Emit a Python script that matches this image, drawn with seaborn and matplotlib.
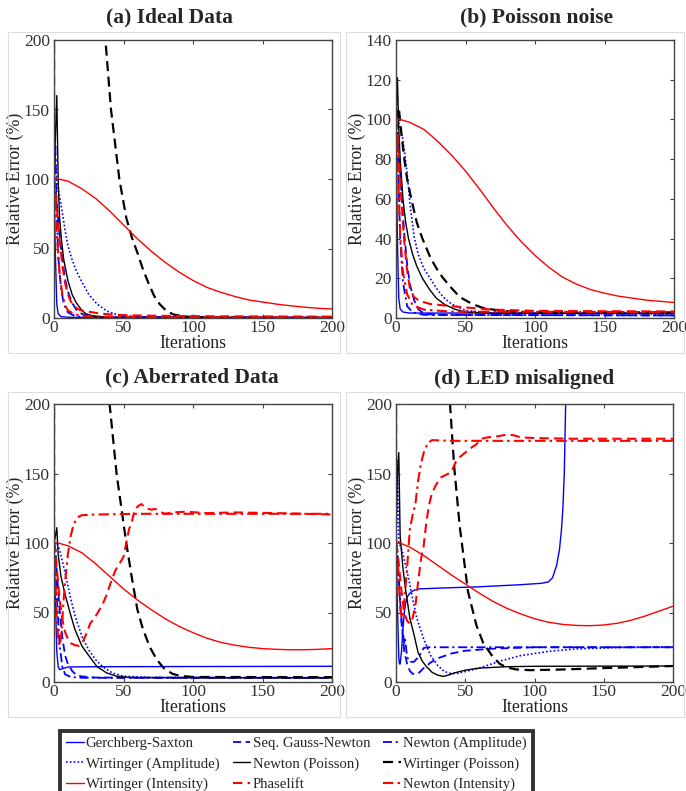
import pandas as pd
import matplotlib.pyplot as plt
import seaborn as sns
from matplotlib.patches import Rectangle

# (iteration, relative error %) pairs
# (a) ideal data
a_gs = [(0, 100), (1, 45), (2, 10), (3, 3), (5, 1), (10, 0.5), (200, 0.3)]
a_sgn = [(0, 100), (1, 95), (2, 82), (4, 60), (6, 42), (8, 28), (10, 19), (13, 11), (16, 6), (20, 3), (25, 1.5), (40, 0.6), (200, 0.3)]
a_na = [(0, 100), (1, 125), (2, 75), (3, 45), (5, 22), (7, 10), (10, 4), (15, 1.5), (20, 0.6), (200, 0.3)]
a_wa = [(0, 100), (1, 115), (2, 98), (5, 82), (8, 63), (10, 52), (13, 42), (16, 34), (20, 26), (25, 17), (31, 10), (38, 5), (45, 2.5), (60, 1), (80, 0.5), (200, 0.3)]
a_np = [(0, 100), (1, 130), (2, 160), (3, 100), (4, 72), (5.5, 55), (7, 42), (10, 27), (13, 17), (16, 11), (20, 5.5), (23, 3), (30, 1), (40, 0.4), (200, 0.2)]
a_wp = [(0, 100), (1, 6000), (10, 2000), (20, 900), (30, 380), (37, 200), (41, 150), (47, 100), (52, 72), (56, 58), (60, 47), (64, 35), (68, 25), (72, 16), (76, 10), (81, 5), (86, 2.5), (95, 1), (110, 0.4), (200, 0.2)]
a_wi = [(0, 100), (3, 100), (10, 98.5), (20, 93), (30, 86), (40, 77), (50, 67), (60, 57), (70, 48), (80, 40), (90, 33), (100, 27), (110, 22), (120, 18.5), (130, 15.5), (140, 13), (150, 11.5), (160, 10), (170, 8.8), (180, 7.8), (190, 7), (200, 6.5)]
a_pl = [(0, 100), (1, 92), (2, 80), (4, 57), (6, 38), (8, 25), (10, 17), (12, 12), (15, 8), (18, 6), (22, 5), (28, 4), (35, 3), (50, 2), (80, 1.5), (120, 1.2), (200, 1)]
a_ni = [(0, 100), (1, 85), (2, 60), (4, 32), (6, 17), (8, 9), (10, 5.5), (15, 2.5), (25, 1.2), (50, 0.6), (200, 0.3)]

# (b) poisson noise
b_gs = [(0, 100), (1, 40), (2, 10), (3, 4.5), (5, 3), (10, 2.5), (200, 2.5)]
b_sgn = [(0, 100), (1, 95), (2, 85), (4, 62), (6, 42), (8, 27), (10, 17), (13, 9), (16, 4.5), (20, 2.2), (30, 1.5), (200, 1.3)]
b_na = [(0, 100), (1, 92), (2, 65), (3, 40), (5, 18), (8, 6), (12, 2.8), (20, 1.6), (200, 1.3)]
b_wa = [(0, 100), (2, 98), (5, 90), (8, 73), (10, 58), (13, 41), (16, 32), (20, 25), (25, 19.5), (30, 14), (34, 10.5), (40, 7), (50, 3.8), (70, 2.3), (200, 2)]
b_np = [(0, 100), (1, 121), (2, 95), (3, 80), (5, 60), (7, 48), (9, 40), (12, 32), (15, 26), (19, 20), (24, 14.5), (29, 10), (35, 6.8), (42, 4.5), (50, 3), (70, 2.4), (200, 2.3)]
b_wp = [(0, 100), (2, 106), (4, 92), (6, 80), (8, 70), (11, 60), (15, 48), (19, 40), (25, 30), (30, 24), (34, 20), (40, 15), (46, 10.5), (55, 7), (62, 5.2), (75, 3.6), (90, 3), (200, 2.8)]
b_wi = [(0, 100), (3, 100), (10, 98.5), (20, 95), (30, 89), (40, 82), (50, 74), (60, 65), (70, 55.5), (80, 46.5), (90, 38.5), (100, 31.5), (110, 25.5), (120, 20.5), (130, 17), (140, 14.3), (150, 12.5), (160, 11), (170, 10), (180, 9), (190, 8.4), (200, 7.8)]
b_pl = [(0, 100), (1, 94), (2, 82), (4, 58), (6, 38), (8, 24), (10, 15), (13, 10.5), (17, 8.5), (25, 7), (35, 6.3), (50, 5.3), (70, 4.2), (100, 3.6), (150, 3.4), (200, 3.3)]
b_ni = [(0, 100), (1, 90), (2, 62), (3, 42), (5, 23), (8, 12), (12, 6.5), (20, 4.2), (40, 3.2), (200, 3)]

# (c) aberrated data
c_gs = [(0, 100), (1, 60), (2, 22), (3, 11), (4, 9), (6, 9.5), (10, 10.8), (30, 11), (200, 11.3)]
c_sgn = [(0, 100), (1, 95), (2, 80), (4, 52), (6, 32), (8, 19), (10, 13), (13, 8), (16, 5), (20, 4), (30, 3.2), (200, 3)]
c_na = [(0, 100), (1, 95), (2, 62), (4, 27), (6, 11), (8, 5.5), (12, 3.6), (20, 3), (200, 3)]
c_wa = [(0, 100), (2, 100), (4, 95), (6, 87), (9, 74), (12, 60), (15, 48), (20, 33), (25, 23), (30, 16), (35, 11), (42, 6.5), (50, 4.2), (70, 3.2), (200, 3)]
c_np = [(0, 100), (1, 105), (2, 111), (3, 92), (5, 76), (8, 63), (11.5, 50), (15, 38), (20, 26), (25, 19), (31, 11), (38, 6.5), (45, 4.2), (55, 3.2), (200, 3)]
c_wp = [(0, 100), (1, 6000), (10, 2200), (20, 1000), (30, 450), (36, 270), (40, 200), (45, 150), (52, 100), (56, 75), (60, 52), (64, 38), (69, 25), (74, 16), (79, 10), (85, 6), (90, 4.5), (100, 3.6), (200, 3.5)]
c_wi = [(0, 100), (3, 100), (10, 98), (20, 93), (30, 85), (40, 76), (50, 67), (60, 59), (70, 52), (80, 45.5), (90, 40), (100, 35.5), (110, 31.5), (120, 28.5), (130, 26.5), (140, 25), (150, 24), (160, 23.5), (170, 23.2), (180, 23.2), (190, 23.5), (200, 24)]
c_pl = [(0, 100), (1, 95), (2, 82), (4, 60), (6, 45), (8, 36), (10, 31), (12, 28), (15, 26.5), (18, 26), (20, 27.5), (23, 34), (26, 42), (31, 49), (35, 56), (38, 63), (41, 72), (44, 80), (47, 85), (50, 90), (52, 100), (54, 110), (56, 115), (58, 124), (61, 127), (63, 128), (66, 125), (70, 124), (73, 124.5), (76, 122.5), (80, 121), (85, 122), (95, 122.5), (110, 121.5), (130, 122), (160, 121.5), (200, 120.5)]
c_ni = [(0, 100), (1, 75), (2, 45), (3, 30), (4, 26), (5, 32), (6, 45), (7, 60), (8, 72), (10, 92), (12, 105), (14, 113), (16, 117), (18, 119), (20, 120), (30, 120.5), (60, 121), (100, 121), (200, 121)]

# (d) LED misaligned
d_gs = [(0, 100), (1, 55), (2, 18), (2.5, 13), (3, 13), (4, 22), (5, 38), (6, 50), (7, 57), (8, 61), (10, 64), (13, 66), (17, 67), (30, 67.5), (60, 68.5), (90, 70), (105, 71), (110, 72), (113, 75), (116, 84), (118, 95), (119.5, 110), (120.5, 125), (121.5, 150), (122.5, 200), (123.5, 260)]
d_sgn = [(0, 100), (1, 92), (2, 72), (4, 42), (6, 22), (8, 13), (10, 8), (12, 6), (14, 5.5), (17, 7), (20, 10), (25, 14), (30, 17), (40, 20.5), (50, 22.5), (70, 24), (100, 25), (200, 25)]
d_na = [(0, 100), (1, 92), (2, 75), (3, 58), (4, 45), (5, 35), (6, 28), (6.5, 31), (7, 27), (8, 18), (10, 14.5), (13, 14.5), (17, 19), (20, 24.5), (23, 25), (200, 25)]
d_wa = [(0, 100), (1, 160), (2, 100), (4, 96), (6, 88), (9, 75), (12, 60), (15, 46), (20, 31), (25, 19), (30, 12), (35, 7.5), (40, 6), (45, 6.3), (50, 7.5), (60, 10), (75, 15), (90, 19), (110, 22), (130, 23.8), (160, 24.8), (200, 25.3)]
d_np = [(0, 100), (1, 150), (2, 165), (3, 105), (5, 82), (7, 66), (10, 46), (13, 34), (16, 21), (19, 15), (22, 11), (26, 7), (30, 5), (34, 4), (38, 5), (42, 6.5), (50, 8.5), (60, 10), (80, 11), (100, 11.3), (200, 11.5)]
d_wp = [(0, 100), (1, 6000), (10, 2300), (20, 1050), (30, 480), (36, 280), (39, 200), (42, 155), (46, 112), (52, 65), (58, 41), (63, 28), (70, 18), (75, 13), (80, 10.5), (87, 9), (97, 8.5), (120, 9), (150, 10), (200, 11.5)]
d_wi = [(0, 100), (3, 100), (10, 97), (20, 91), (30, 84), (40, 77), (50, 70.5), (60, 64), (70, 58), (80, 53), (90, 49), (100, 45.5), (110, 43), (120, 41.5), (130, 40.7), (140, 40.5), (150, 41), (160, 42.3), (170, 44.5), (180, 47.5), (190, 51), (200, 54.5)]
d_pl = [(0, 100), (1, 95), (2, 85), (4, 65), (6, 50), (8, 44), (10, 42), (12, 46), (14, 55), (16, 72), (18, 88), (20, 98), (22, 116), (24, 128), (26, 136), (29, 142), (32, 147), (36, 149), (40, 151), (43, 158), (45, 161), (50, 165), (55, 169), (58, 171), (62, 175), (66, 176), (72, 176.5), (80, 178), (85, 177.5), (90, 176), (100, 175.5), (130, 175), (200, 175)]
d_ni = [(0, 100), (1, 90), (2, 72), (3, 55), (4, 46), (5, 48), (6, 58), (8, 82), (10, 110), (12, 120), (14, 128), (16, 145), (18, 157), (20, 165), (23, 172), (26, 174), (40, 173.5), (200, 173.5)]

methods = ["Gerchberg-Saxton", "Seq. Gauss-Newton", "Newton (Amplitude)",
           "Wirtinger (Amplitude)", "Newton (Poisson)", "Wirtinger (Poisson)",
           "Wirtinger (Intensity)", "Phaselift", "Newton (Intensity)"]
titles = ["(a) Ideal Data", "(b) Poisson noise", "(c) Aberrated Data", "(d) LED misaligned"]
y_max = [200, 140, 200, 200]
y_step = [50, 20, 50, 50]

panel_data = [
    [a_gs, a_sgn, a_na, a_wa, a_np, a_wp, a_wi, a_pl, a_ni],
    [b_gs, b_sgn, b_na, b_wa, b_np, b_wp, b_wi, b_pl, b_ni],
    [c_gs, c_sgn, c_na, c_wa, c_np, c_wp, c_wi, c_pl, c_ni],
    [d_gs, d_sgn, d_na, d_wa, d_np, d_wp, d_wi, d_pl, d_ni],
]

DASH = (0, (4.5, 2.5))
DASHDOT = (0, (5, 2, 1.2, 2))
DOT = (0, (1, 1.3))
styles = {
    "Gerchberg-Saxton": ("#0000ff", "-", 1.0),
    "Seq. Gauss-Newton": ("#0000ff", DASH, 1.3),
    "Newton (Amplitude)": ("#0000ff", DASHDOT, 1.3),
    "Wirtinger (Amplitude)": ("#0000ff", DOT, 1.2),
    "Newton (Poisson)": ("#000000", "-", 1.0),
    "Wirtinger (Poisson)": ("#000000", DASH, 1.6),
    "Wirtinger (Intensity)": ("#ff0000", "-", 1.0),
    "Phaselift": ("#ff0000", DASH, 1.5),
    "Newton (Intensity)": ("#ff0000", DASHDOT, 1.5),
}

sns.set_style("ticks")
plt.rcParams["font.family"] = ["Liberation Serif", "DejaVu Serif"]

W, H = 686, 791
fig = plt.figure(figsize=(W / 100, H / 100), dpi=100)

# axes boxes in pixels: left, top, right, bottom
boxes = [(54, 40, 332, 318), (396, 40, 674, 318), (54, 404, 332, 682), (396, 404, 673, 682)]
frames = [(8, 32, 340, 353), (346, 32, 684, 353), (8, 392, 340, 717), (346, 392, 684, 717)]
title_pos = [(170, 17), (536, 17), (192, 377), (524, 379)]

axes = []
for i, (l, t, r, b) in enumerate(boxes):
    fl, ft, fr, fb = frames[i]
    fig.patches.append(Rectangle((fl / W, 1 - fb / H), (fr - fl) / W, (fb - ft) / H,
                                 transform=fig.transFigure, fill=False,
                                 edgecolor="#dddddd", linewidth=0.8))
    ax = fig.add_axes([l / W, 1 - b / H, (r - l) / W, (b - t) / H])
    axes.append(ax)
    for name, pts in zip(methods, panel_data[i]):
        df = pd.DataFrame(pts, columns=["iter", "err"])
        c, ls, lw = styles[name]
        sns.lineplot(data=df, x="iter", y="err", ax=ax, color=c, linestyle=ls,
                     linewidth=lw, estimator=None, errorbar=None, label=name)
    ax.set_xlim(0, 200)
    ax.set_ylim(0, y_max[i])
    ax.set_xticks(range(0, 201, 50))
    ax.set_yticks(range(0, y_max[i] + 1, y_step[i]))
    ax.tick_params(direction="in", top=True, right=True, length=3, width=0.8,
                   labelsize=12.5, labelcolor="#333333", color="#444444")
    ax.tick_params(axis="x", pad=1.5)
    ax.tick_params(axis="y", pad=3)
    for s in ax.spines.values():
        s.set_color("#444444")
        s.set_linewidth(1.0)
    ax.set_xlabel("Iterations", fontsize=12.8, color="#222222")
    ax.set_ylabel("Relative Error (%)", fontsize=12.8, color="#222222")
    ax.xaxis.set_label_coords(0.5, -0.06)
    ax.yaxis.set_label_coords(-0.108, 0.5)
    ax.get_legend().remove()
    tx, ty = title_pos[i]
    fig.text(tx / W, 1 - ty / H, titles[i], fontsize=15.5, fontweight="bold",
             ha="center", va="center")

handles, labels = axes[0].get_legend_handles_labels()
# matplotlib fills legend columns first; reorder so rows read like the original
order = [0, 3, 6, 1, 4, 7, 2, 5, 8]
leg = fig.legend([handles[k] for k in order], [labels[k] for k in order],
                 ncol=3, loc="upper left", bbox_to_anchor=(60 / W, 1 - 731 / H),
                 fontsize=10.6, frameon=True, fancybox=False, edgecolor="black",
                 handlelength=1.2, handletextpad=0.15, columnspacing=0.9,
                 borderpad=0.4, labelspacing=0.47, borderaxespad=0)
leg.get_frame().set_linewidth(2.8)

plt.savefig("out.png", dpi=100)
